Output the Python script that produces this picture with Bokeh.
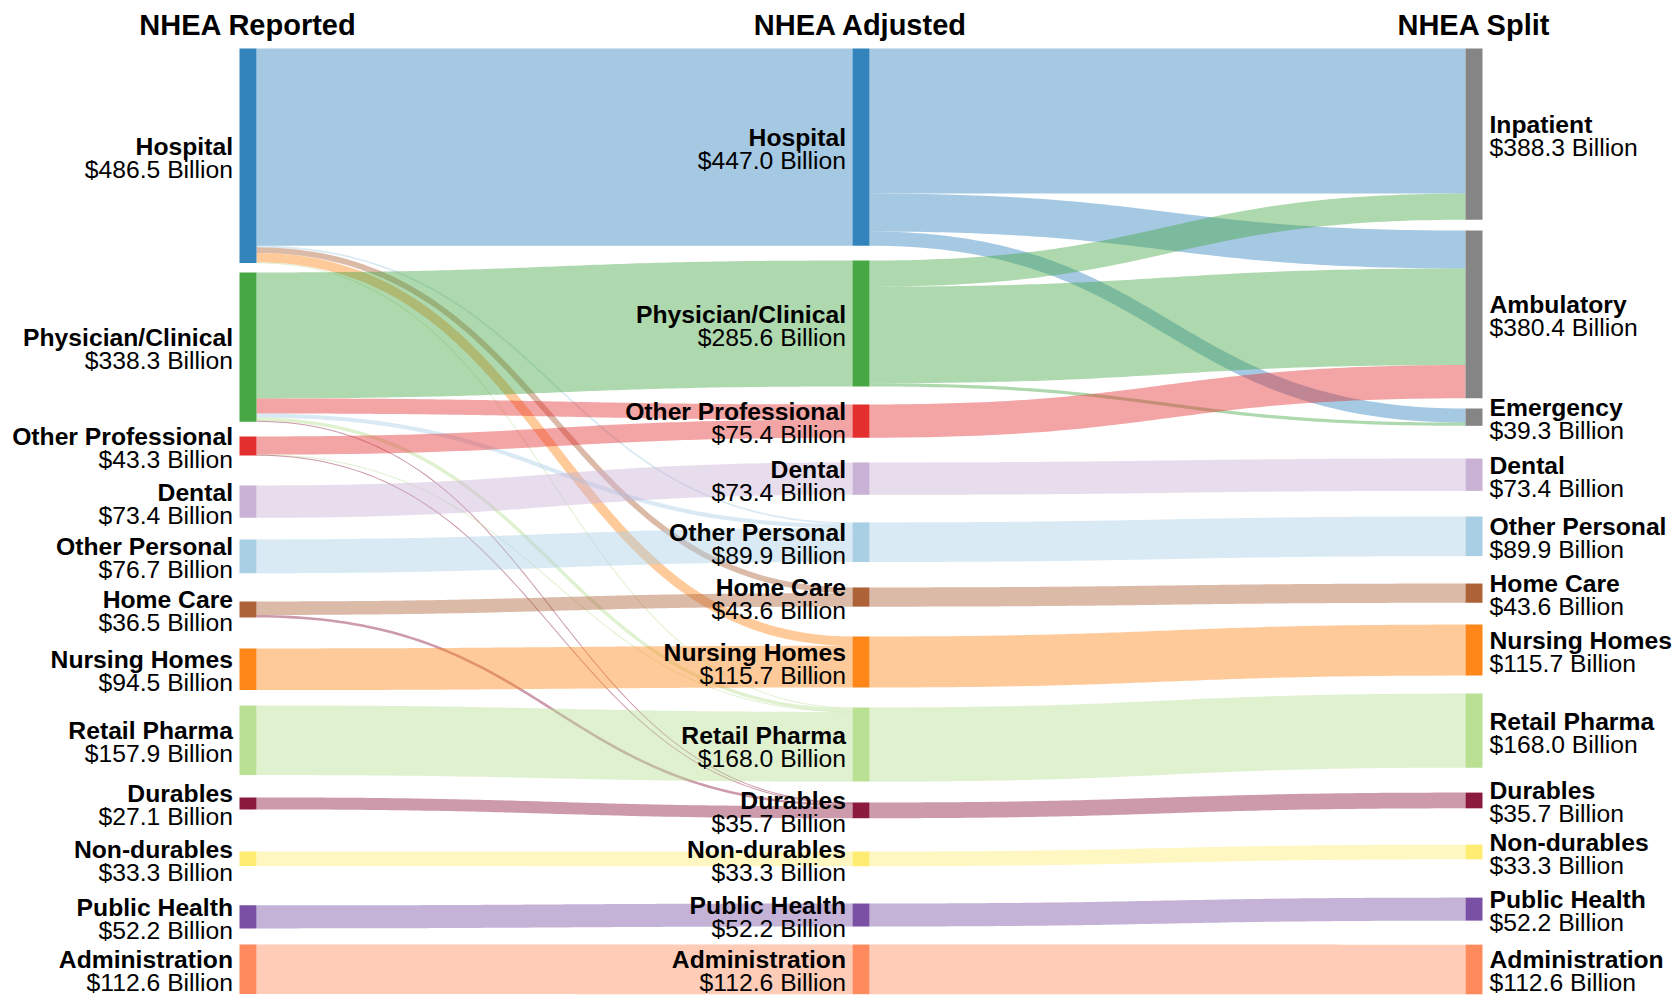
import numpy as np
from bokeh.plotting import figure
from bokeh.models import Range1d, ColumnDataSource
from bokeh.core.properties import value
from bokeh.embed import file_html
from bokeh.resources import INLINE

# ---------------- data ----------------
COLUMN_TITLES = ["NHEA Reported", "NHEA Adjusted", "NHEA Split"]

REPORTED_NAMES = ["Hospital", "Physician/Clinical", "Other Professional", "Dental",
                  "Other Personal", "Home Care", "Nursing Homes", "Retail Pharma",
                  "Durables", "Non-durables", "Public Health", "Administration"]
REPORTED_VALUES = [486.5, 338.3, 43.3, 73.4, 76.7, 36.5, 94.5, 157.9, 27.1, 33.3, 52.2, 112.6]

ADJUSTED_NAMES = ["Hospital", "Physician/Clinical", "Other Professional", "Dental",
                  "Other Personal", "Home Care", "Nursing Homes", "Retail Pharma",
                  "Durables", "Non-durables", "Public Health", "Administration"]
ADJUSTED_VALUES = [447.0, 285.6, 75.4, 73.4, 89.9, 43.6, 115.7, 168.0, 35.7, 33.3, 52.2, 112.6]

SPLIT_NAMES = ["Inpatient", "Ambulatory", "Emergency", "Dental",
               "Other Personal", "Home Care", "Nursing Homes", "Retail Pharma",
               "Durables", "Non-durables", "Public Health", "Administration"]
SPLIT_VALUES = [388.3, 380.4, 39.3, 73.4, 89.9, 43.6, 115.7, 168.0, 35.7, 33.3, 52.2, 112.6]

# flows Reported -> Adjusted (indices into the name lists)
FLOW1_SOURCE = [0, 0, 0, 0, 0, 1, 1, 1, 1, 1, 2, 2, 2, 3, 4, 5, 5, 6, 7, 8, 9, 10, 11]
FLOW1_TARGET = [0, 4, 5, 6, 7, 1, 2, 4, 7, 8, 2, 7, 8, 3, 4, 5, 8, 6, 7, 8, 9, 10, 11]
FLOW1_VALUE = [447.0, 3.8, 12.9, 21.2, 1.7,
               285.6, 34.2, 9.4, 7.7, 1.4,
               41.2, 0.7, 1.4,
               73.4, 76.7, 30.7, 5.8, 94.5, 157.9, 27.1, 33.3, 52.2, 112.6]

# flows Adjusted -> Split
FLOW2_SOURCE = [0, 0, 0, 1, 1, 1, 2, 3, 4, 5, 6, 7, 8, 9, 10, 11]
FLOW2_TARGET = [0, 1, 2, 0, 1, 2, 1, 3, 4, 5, 6, 7, 8, 9, 10, 11]
FLOW2_VALUE = [329.0, 86.0, 32.0, 59.3, 219.0, 7.3, 75.4,
               73.4, 89.9, 43.6, 115.7, 168.0, 35.7, 33.3, 52.2, 112.6]

# ---------------- styles / layout ----------------
CATEGORY_COLORS = ["#3383bd", "#47a744", "#e3302f", "#cab2d6", "#a9cfe5", "#ad6238",
                   "#ff8618", "#b9e093", "#8b1a3e", "#ffec72", "#7950a4", "#ff8a5e"]
SPLIT_GRAY = "#858585"
LINK_ALPHA = 0.44

W, H = 1676, 995
PX_PER_B = 0.441           # screen pixels per billion
TOP_PX = 48                # top of node stacks (screen px from top)
TITLE_BASE_PX = 24
COL_X = [239.0, 852.0, 1465.0]
NODE_W = 17
LABEL_PAD = [6.5, 6.5, 7.0]
NAME_DY, VALUE_DY = -9.5, 13.5   # baseline offsets from node centre (px)
GAP_SCALE = 1.0
GAPS_PX = [
    [9.4, 14.8, 29.9, 21.6, 28.2, 30.9, 15.3, 22.4, 42.0, 39.3, 16.0],
    [14.9, 18.0, 24.7, 27.6, 25.4, 29.8, 20.0, 20.9, 33.3, 37.3, 18.0],
    [10.8, 10.2, 32.7, 25.6, 27.4, 21.8, 18.0, 24.9, 36.3, 38.3, 24.0],
]
FONT = value("Liberation Sans")
LABEL_SIZE = "24.7px"
TITLE_SIZE = "29px"

k = PX_PER_B
p = figure(width=W, height=H, x_range=Range1d(0, W),
           y_range=Range1d(start=(H - TOP_PX) / k, end=-TOP_PX / k),
           toolbar_location=None, output_backend="svg", min_border=0,
           x_axis_type=None, y_axis_type=None)
p.grid.visible = False
p.outline_line_color = None
p.background_fill_color = "white"
p.border_fill_color = "white"

columns = [(REPORTED_NAMES, REPORTED_VALUES),
           (ADJUSTED_NAMES, ADJUSTED_VALUES),
           (SPLIT_NAMES, SPLIT_VALUES)]

# node tops (in billions, downward from chart top)
tops = []
for ci, (names, vals) in enumerate(columns):
    t = [0.0]
    for i in range(len(vals) - 1):
        t.append(t[-1] + vals[i] + GAP_SCALE * GAPS_PX[ci][i] / k)
    tops.append(t)

flows = [(0, FLOW1_SOURCE, FLOW1_TARGET, FLOW1_VALUE),
         (1, FLOW2_SOURCE, FLOW2_TARGET, FLOW2_VALUE)]

link_xs, link_ys, link_colors = [], [], []
N = 90
tt = np.linspace(0, 1, N)
for ci, srcs, tgts, vals in flows:
    links = list(zip(srcs, tgts, vals))
    sy = {}
    for s in set(srcs):
        out = sorted([l for l in links if l[0] == s], key=lambda l: tops[ci + 1][l[1]])
        acc = 0.0
        for l in out:
            sy[(l[0], l[1])] = acc
            acc += l[2]
    ty = {}
    for t_ in set(tgts):
        inc = sorted([l for l in links if l[1] == t_], key=lambda l: tops[ci][l[0]])
        acc = 0.0
        for l in inc:
            ty[(l[0], l[1])] = acc
            acc += l[2]
    for s, t_, v in links:
        x0 = COL_X[ci] + NODE_W
        x1 = COL_X[ci + 1]
        xm = (x0 + x1) / 2
        y0 = (tops[ci][s] + sy[(s, t_)] + v / 2) * k
        y1 = (tops[ci + 1][t_] + ty[(s, t_)] + v / 2) * k
        w = max(1.0, v * k)
        a = (1 - tt)
        bx = a**3 * x0 + 3 * a**2 * tt * xm + 3 * a * tt**2 * xm + tt**3 * x1
        by = a**3 * y0 + 3 * a**2 * tt * y0 + 3 * a * tt**2 * y1 + tt**3 * y1
        dx = 3 * a**2 * (xm - x0) + 3 * tt**2 * (x1 - xm)
        dy = 6 * a * tt * (y1 - y0)
        ln = np.hypot(dx, dy)
        nx, ny = -dy / ln, dx / ln
        topx, topy = bx + nx * w / 2, by + ny * w / 2
        botx, boty = bx - nx * w / 2, by - ny * w / 2
        px = np.concatenate([topx, botx[::-1]])
        py = np.concatenate([topy, boty[::-1]]) / k
        link_xs.append(list(px))
        link_ys.append(list(py))
        mid = t_ if ci == 0 else s
        link_colors.append(CATEGORY_COLORS[mid])

p.patches(xs=link_xs, ys=link_ys, fill_color=link_colors, fill_alpha=LINK_ALPHA,
          line_color=None)

# nodes
nl, nr, nt, nb, nc = [], [], [], [], []
for ci, (names, vals) in enumerate(columns):
    for i, v in enumerate(vals):
        nl.append(COL_X[ci]); nr.append(COL_X[ci] + NODE_W)
        nt.append(tops[ci][i]); nb.append(tops[ci][i] + v)
        nc.append(SPLIT_GRAY if (ci == 2 and i < 3) else CATEGORY_COLORS[i])
p.quad(left=nl, right=nr, top=nt, bottom=nb, fill_color=nc, line_color=None)

# labels
lab_x, lab_yn, lab_yv, lab_n, lab_v, lab_al = [], [], [], [], [], []
for ci, (names, vals) in enumerate(columns):
    for i, v in enumerate(vals):
        c = tops[ci][i] + v / 2
        if ci < 2:
            lab_x.append(COL_X[ci] - LABEL_PAD[ci]); lab_al.append("right")
        else:
            lab_x.append(COL_X[ci] + NODE_W + LABEL_PAD[ci]); lab_al.append("left")
        lab_yn.append(c + NAME_DY / k)
        lab_yv.append(c + VALUE_DY / k)
        lab_n.append(names[i])
        lab_v.append("$%.1f Billion" % v)

src = ColumnDataSource(dict(x=lab_x, yn=lab_yn, yv=lab_yv, n=lab_n, v=lab_v, al=lab_al))

for ycol, tcol, style in (("yn", "n", "bold"), ("yv", "v", "normal")):
    p.text(x="x", y=ycol, text=tcol, source=src, text_align="al",
           text_baseline="alphabetic", text_font=FONT, text_font_size=LABEL_SIZE,
           text_font_style=style, text_color="#000000")

# column titles
p.text(x=[cx + NODE_W / 2 for cx in COL_X], y=[-(TOP_PX - TITLE_BASE_PX) / k] * 3,
       text=COLUMN_TITLES, text_align="center", text_baseline="alphabetic",
       text_font=FONT, text_font_size=TITLE_SIZE, text_font_style="bold",
       text_color="#000000")

open("out.html", "w").write(file_html(p, INLINE))
